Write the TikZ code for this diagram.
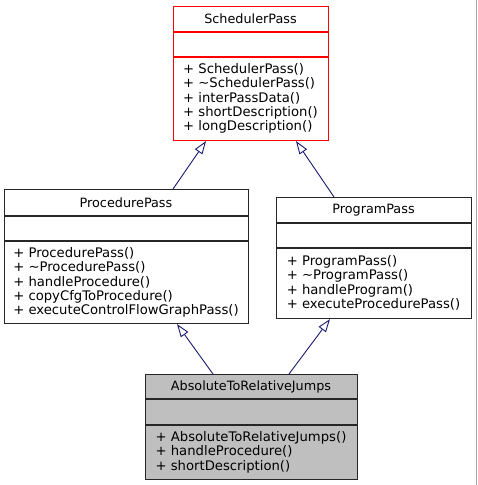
\documentclass[tikz,border=0pt]{standalone}
\usepackage{fontspec}
\setmainfont{DejaVu Sans}
\usetikzlibrary{arrows.meta}
\definecolor{edgeblue}{HTML}{191970}
\definecolor{boxgray}{HTML}{BFBFBF}

\begin{document}
\begin{tikzpicture}[x=1pt,y=-1pt,
  cls/.style={draw=black!85,line width=1.1pt,anchor=north west,inner sep=0pt,fill=white},
  title/.style={inner sep=0pt,font=\fontsize{12.8}{14.4}\selectfont},
  ops/.style={inner sep=0pt,align=left,font=\fontsize{13.2}{14.4}\selectfont},
  inh/.style={draw=edgeblue,line width=0.9pt,-{Triangle[open,length=13pt,width=9pt]}}
  ]
\useasboundingbox (0,0) rectangle (477,485);
\draw[black!35,line width=1pt] (476.5,0) -- (476.5,485);
% class boxes
\node[cls,draw=red,minimum width=155,minimum height=134] (sched) at (173,6){};
\node[cls,minimum width=244,minimum height=134] (proc) at (4,189){};
\node[cls,minimum width=195,minimum height=121] (prog) at (276,197){};
\node[cls,fill=boxgray,minimum width=212,minimum height=105] (atr) at (145,374){};
% dividers
\draw[red,line width=1.1pt] (173,32) -- (328,32) (173,57) -- (328,57);
\draw[black!85,line width=1.1pt] (4,216) -- (248,216) (4,241) -- (248,241);
\draw[black!85,line width=1.1pt] (276,223) -- (471,223) (276,248) -- (471,248);
\draw[black!85,line width=1.1pt] (145,399) -- (357,399) (145,425) -- (357,425);
% titles
\node[title] (schedT) at (250.5,19){SchedulerPass};
\node[title] (procT) at (126,202.5){ProcedurePass};
\node[title] (progT) at (373.5,210){ProgramPass};
\node[title] (atrT) at (251,386.5){AbsoluteToRelativeJumps};
% operations
\node[ops] (schedM) at (250.5,98.5){+ SchedulerPass()\\+ \textasciitilde SchedulerPass()\\+ interPassData()\\+ shortDescription()\\+ longDescription()};
\node[ops] (procM) at (126,282.5){+ ProcedurePass()\\+ \textasciitilde ProcedurePass()\\+ handleProcedure()\\+ copyCfgToProcedure()\\+ executeControlFlowGraphPass()};
\node[ops] (progM) at (373.5,283){+ ProgramPass()\\+ \textasciitilde ProgramPass()\\+ handleProgram()\\+ executeProcedurePass()};
\node[ops] (atrM) at (251,452){+ AbsoluteToRelativeJumps()\\+ handleProcedure()\\+ shortDescription()};
% inheritance
\draw[inh] ([xshift=169]proc.north west) -- ([xshift=33]sched.south west);
\draw[inh] ([xshift=58]prog.north west) -- ([xshift=123]sched.south west);
\draw[inh] ([xshift=68]atr.north west) -- ([xshift=173]proc.south west);
\draw[inh] ([xshift=144]atr.north west) -- ([xshift=54]prog.south west);
\end{tikzpicture}
\end{document}
